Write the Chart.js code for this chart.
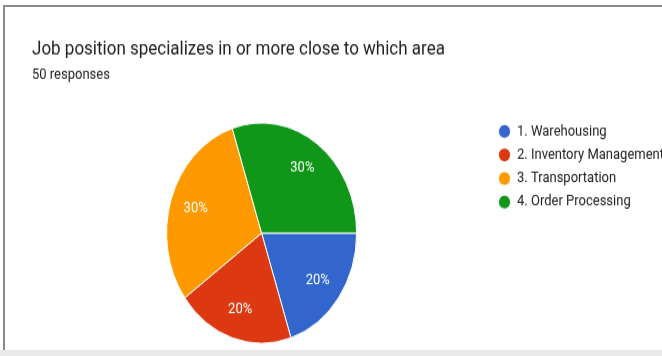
<!DOCTYPE html>
<html>
<head>
<meta charset="utf-8">
<script src="https://cdn.jsdelivr.net/npm/chart.js@4/dist/chart.umd.min.js"></script>
<style>
  html, body { margin: 0; padding: 0; background: #fff; }
  body { width: 662px; height: 356px; overflow: hidden; position: relative; }
  .frame { position: absolute; left: 3px; top: 5px; width: 700px; height: 345px;
           border-left: 2px solid #8a8a8a; border-top: 2px solid #8a8a8a; }
  .strip { position: absolute; left: 0; top: 350px; width: 662px; height: 6px; background: #e9e9e9; }
  .wrap { position: absolute; left: 0; top: 0; width: 674px; height: 307px;
          transform: scaleY(1.1596); transform-origin: 0 0; }
</style>
</head>
<body>
<div class="frame"></div>
<div class="strip"></div>
<div class="wrap"><canvas id="pie" width="674" height="307"></canvas></div>
<script>
const categories = ['1. Warehousing', '2. Inventory Management', '3. Transportation', '4. Order Processing'];
const counts = [10, 10, 15, 15];
const colors = ['#3366cc', '#dc3912', '#ff9900', '#109618'];

const sliceLabels = {
  id: 'sliceLabels',
  afterDatasetsDraw(chart) {
    const ctx = chart.ctx;
    const total = counts.reduce((a, b) => a + b, 0);
    chart.getDatasetMeta(0).data.forEach((arc, i) => {
      const p = arc.getProps(['x', 'y', 'startAngle', 'endAngle', 'outerRadius'], true);
      const mid = (p.startAngle + p.endAngle) / 2;
      const r = p.outerRadius * 0.73;
      ctx.save();
      ctx.fillStyle = '#ffffff';
      ctx.font = '13px Roboto';
      ctx.textAlign = 'center';
      ctx.textBaseline = 'middle';
      ctx.fillText(Math.round(counts[i] / total * 100) + '%', p.x + Math.cos(mid) * r, p.y + Math.sin(mid) * r);
      ctx.restore();
    });
  }
};

new Chart(document.getElementById('pie'), {
  type: 'pie',
  data: {
    labels: categories,
    datasets: [{
      data: counts,
      backgroundColor: colors,
      borderColor: '#ffffff',
      borderWidth: 1
    }]
  },
  options: {
    responsive: false,
    animation: false,
    rotation: 90,
    radius: 95,
    layout: { padding: { left: 32, right: 0, top: 0, bottom: 4.5 } },
    plugins: {
      title: {
        display: true,
        text: 'Job position specializes in or more close to which area',
        align: 'start',
        color: '#212121',
        font: { family: 'Roboto', size: 17, weight: 'normal' },
        padding: { top: 33, bottom: 0 }
      },
      subtitle: {
        display: true,
        text: '50 responses',
        align: 'start',
        color: '#212121',
        font: { family: 'Roboto', size: 13, weight: 'normal' },
        padding: { top: 4, bottom: 26.5 }
      },
      legend: {
        position: 'right',
        align: 'start',
        fullSize: false,
        maxWidth: 188,
        labels: {
          usePointStyle: true,
          pointStyle: 'circle',
          boxWidth: 12,
          boxHeight: 8.5,
          padding: 7.3,
          color: '#222222',
          font: { family: 'Roboto', size: 13 }
        }
      },
      tooltip: { enabled: false }
    }
  },
  plugins: [sliceLabels]
});
</script>
</body>
</html>
